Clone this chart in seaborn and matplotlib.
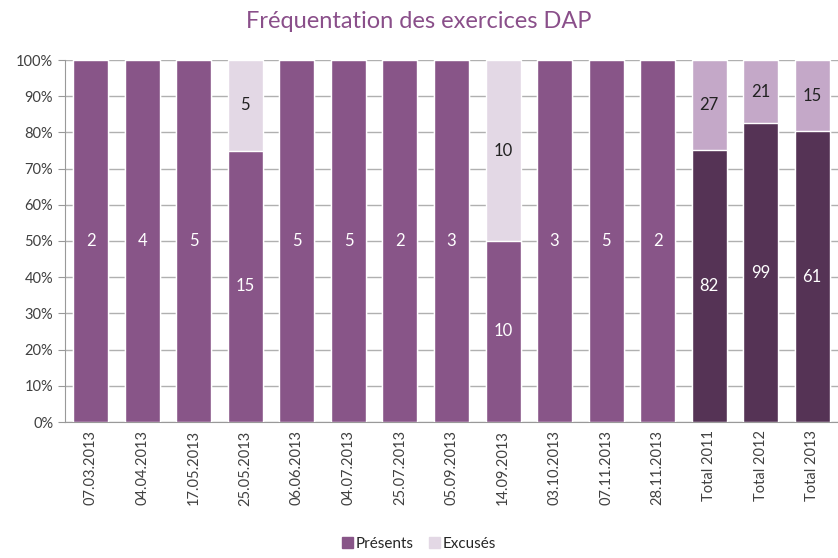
import pandas as pd
import matplotlib.pyplot as plt
import seaborn as sns
from matplotlib.patches import Patch

# Data
dates = ["07.03.2013", "04.04.2013", "17.05.2013", "25.05.2013", "06.06.2013",
         "04.07.2013", "25.07.2013", "05.09.2013", "14.09.2013", "03.10.2013",
         "07.11.2013", "28.11.2013", "Total 2011", "Total 2012", "Total 2013"]
presents = [2, 4, 5, 15, 5, 5, 2, 3, 10, 3, 5, 2, 82, 99, 61]
excuses = [0, 0, 0, 5, 0, 0, 0, 0, 10, 0, 0, 0, 27, 21, 15]

# Colours: single sessions vs yearly totals
pres_col = ["#885588"] * 12 + ["#553355"] * 3
exc_col = ["#e3d8e5"] * 12 + ["#c4a8c8"] * 3

df = pd.DataFrame({"date": dates, "pres": presents, "exc": excuses})
df["total"] = df["pres"] + df["exc"]
df["pres_pct"] = df["pres"] / df["total"] * 100
df["all_pct"] = 100.0

sns.set_style("white")
plt.rcParams["font.family"] = ["Lato", "DejaVu Sans"]

fig = plt.figure(figsize=(8.38, 5.58), dpi=100)
ax = fig.add_axes([65 / 838, 136 / 558, 773 / 838, 362 / 558])

sns.barplot(data=df, x="date", y="all_pct", hue="date", palette=exc_col,
            legend=False, width=0.68, saturation=1, ax=ax, zorder=2)
sns.barplot(data=df, x="date", y="pres_pct", hue="date", palette=pres_col,
            legend=False, width=0.68, saturation=1, ax=ax, zorder=3)

# segment labels
for i, row in df.iterrows():
    pp = row["pres_pct"]
    ax.text(i, pp / 2, str(row["pres"]), ha="center", va="center",
            color="white", fontsize=12, zorder=4)
    if row["exc"] > 0:
        ax.text(i, pp + (100 - pp) / 2, str(row["exc"]), ha="center", va="center",
                color="#222222", fontsize=12, zorder=4)

ax.set_ylim(0, 100)
ax.set_xlim(-0.5, len(dates) - 0.5)
ax.set_yticks(range(0, 101, 10))
ax.set_yticklabels([f"{v}%" for v in range(0, 101, 10)], fontsize=10.5, color="#404040")
ax.set_xticks(range(len(dates)))
ax.set_xticklabels(dates, rotation=90, fontsize=10.5, color="#404040")
ax.set_xticks([i + 0.5 for i in range(-1, len(dates))], minor=True)
ax.tick_params(axis="x", which="major", length=0, pad=6)
ax.tick_params(axis="x", which="minor", length=5, color="#999999", direction="out")
ax.tick_params(axis="y", length=5, color="#999999", direction="out", left=True)
ax.set_xlabel("")
ax.set_ylabel("")

ax.yaxis.grid(True, color="#b0b0b0", linewidth=1, zorder=0)
ax.set_axisbelow(True)
for s in ["top", "right"]:
    ax.spines[s].set_visible(False)
ax.spines["left"].set_color("#999999")
ax.spines["bottom"].set_color("#999999")

fig.suptitle("Fréquentation des exercices DAP", y=0.98, fontsize=17,
             color="#8a4f8a")

handles = [Patch(color="#885588", label="Présents"),
           Patch(color="#e3d8e5", label="Excusés")]
fig.legend(handles=handles, loc="lower center", ncol=2, frameon=False,
           fontsize=11, bbox_to_anchor=(0.5, -0.012), handlelength=0.7,
           handleheight=0.7, handletextpad=0.2, columnspacing=1.0)

fig.savefig("out.png", dpi=100)
